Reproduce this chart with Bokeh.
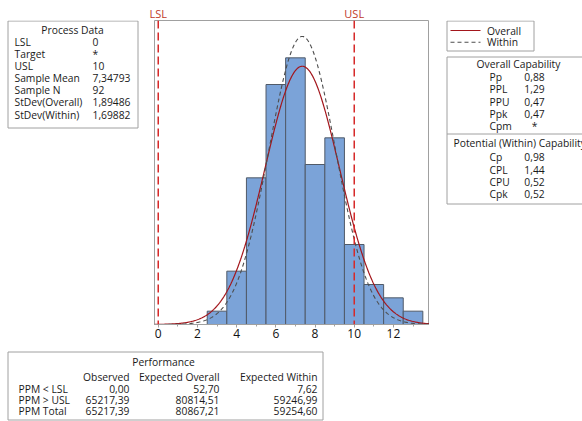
import numpy as np
from bokeh.plotting import figure
from bokeh.layouts import row, column
from bokeh.models import Span, FixedTicker, Range1d
from bokeh.core.properties import value
from bokeh.embed import file_html
from bokeh.resources import INLINE

# ---- data -------------------------------------------------------------
bin_edges = [2.5, 3.5, 4.5, 5.5, 6.5, 7.5, 8.5, 9.5, 10.5, 11.5, 12.5, 13.5]
counts = [1, 4, 11, 18, 20, 12, 14, 6, 3, 2, 1]

lsl, usl = 0, 10
sample_mean = 7.34793
sample_n = 92
stdev_overall = 1.89486
stdev_within = 1.69882

x_ticks = [0, 2, 4, 6, 8, 10, 12]
x_minor_ticks = [1, 3, 5, 7, 9, 11, 13]

legend_labels = ["Overall", "Within"]

process_labels = ["LSL", "Target", "USL", "Sample Mean", "Sample N",
                  "StDev(Overall)", "StDev(Within)"]
process_values = ["0", "*", "10", "7,34793", "92", "1,89486", "1,69882"]

overall_labels = ["Pp", "PPL", "PPU", "Ppk", "Cpm"]
overall_values = ["0,88", "1,29", "0,47", "0,47", "*"]
within_labels = ["Cp", "CPL", "CPU", "Cpk"]
within_values = ["0,98", "1,44", "0,52", "0,52"]

perf_rows = ["PPM < LSL", "PPM > USL", "PPM Total"]
perf_cols = ["Observed", "Expected Overall", "Expected Within"]
perf_observed = ["0,00", "65217,39", "65217,39"]
perf_exp_overall = ["52,70", "80814,51", "80867,21"]
perf_exp_within = ["7,62", "59246,99", "59254,60"]

# ---- styling ----------------------------------------------------------
FONT = "Open Sans"
FS = "10.3px"
TXT = "#1a1a1a"
BORDER = "#a0a0a0"
BAR_FILL = "#7ba3d8"
BAR_LINE = "#505a68"
OVERALL_COLOR = "#a3161c"
WITHIN_COLOR = "#4d4d4d"
SPEC_COLOR = "#d62a2a"
SPEC_TEXT = "#c0392b"

# pixel sizes of the panels
LEFT_W, PLOT_W, RIGHT_W = 154, 275, 153
FULL_W = LEFT_W + PLOT_W + RIGHT_W
TOP_H, MID_H, BOTTOM_H = 20, 325, 76
AXIS_H = 21
MID_FRAME_H = MID_H - AXIS_H  # frames in the middle row share this height

x_range = Range1d(-0.19, 13.84)


def panel(w, h, xr=None, frame_h=None, bottom_border=0):
    """A blank figure whose data units are its own pixels (y runs downward)."""
    fh = frame_h if frame_h is not None else h
    f = figure(width=w, height=h, output_backend="svg", toolbar_location=None,
               x_range=xr if xr is not None else Range1d(0, w),
               y_range=Range1d(fh, 0),
               x_axis_location=None, y_axis_location=None,
               min_border=0, min_border_bottom=bottom_border,
               outline_line_color=None)
    f.grid.visible = False
    return f


def texts(f, xs, ys, labels, align="left", size=FS, color=TXT):
    f.text(x=xs, y=ys, text=labels, text_align=align, text_baseline="middle",
           text_font=value(FONT), text_font_size=value(size), text_color=color)


def frame_box(f, x0, y0, x1, y1):
    f.quad(left=[x0], right=[x1], top=[y0], bottom=[y1],
           fill_alpha=0, line_color=BORDER, line_width=1)


# ---- main histogram ----------------------------------------------------
p = figure(width=PLOT_W, height=MID_H, output_backend="svg", toolbar_location=None,
           x_range=x_range, y_range=Range1d(0, 22.8),
           y_axis_location=None,
           min_border_left=0, min_border_right=0,
           min_border_top=0, min_border_bottom=AXIS_H)
p.grid.visible = False
p.outline_line_color = BORDER

p.quad(left=bin_edges[:-1], right=bin_edges[1:], bottom=0, top=counts,
       fill_color=BAR_FILL, line_color=BAR_LINE, line_width=1)

# fitted normal curves, scaled to counts per bin
bw = bin_edges[1] - bin_edges[0]
xs = np.linspace(x_range.start, x_range.end, 400)


def normal_counts(sd):
    return sample_n * bw * np.exp(-0.5 * ((xs - sample_mean) / sd) ** 2) / (sd * np.sqrt(2 * np.pi))


p.line(xs, normal_counts(stdev_overall), line_color=OVERALL_COLOR, line_width=1.2)
p.line(xs, normal_counts(stdev_within), line_color=WITHIN_COLOR,
       line_width=1.1, line_dash="4 3")

for loc in (lsl, usl):
    p.add_layout(Span(location=loc, dimension="height", line_color=SPEC_COLOR,
                      line_width=1.5, line_dash="8 4"))

ax = p.xaxis[0]
ax.ticker = FixedTicker(ticks=x_ticks, minor_ticks=x_minor_ticks)
ax.axis_line_color = BORDER
ax.major_tick_line_color = BORDER
ax.minor_tick_line_color = BORDER
ax.major_tick_out = 3
ax.major_tick_in = 0
ax.minor_tick_out = 2
ax.minor_tick_in = 0
ax.major_label_standoff = 1
ax.major_label_text_font = FONT
ax.major_label_text_font_size = "12px"
ax.major_label_text_color = "#111111"

# ---- spec limit labels above the frame (same x scale, widened to the page) ----
px_per_unit = PLOT_W / (x_range.end - x_range.start)
top = panel(FULL_W, TOP_H, xr=Range1d(x_range.start - LEFT_W / px_per_unit,
                                      x_range.end + RIGHT_W / px_per_unit))
texts(top, [lsl, usl], [12.5, 12.5], ["LSL", "USL"], align="center",
      size="11px", color=SPEC_TEXT)

# ---- process data table (left) -----------------------------------------
left = panel(LEFT_W, MID_H, frame_h=MID_FRAME_H, bottom_border=AXIS_H)
frame_box(left, 7.5, 0.5, 137.5, 107.5)
texts(left, [72], [9.3], ["Process Data"], align="center")
rows_y = [21.7 + 12.05 * i for i in range(len(process_labels))]
texts(left, [14] * len(rows_y), rows_y, process_labels)
texts(left, [92] * len(rows_y), rows_y, process_values)

# ---- legend and capability tables (right) --------------------------------
right = panel(RIGHT_W, MID_H, frame_h=MID_FRAME_H, bottom_border=AXIS_H)
frame_box(right, 17.5, 0.5, 104.5, 30.5)
leg_y = [10, 21.7]
right.segment(x0=[21], y0=[leg_y[0]], x1=[51], y1=[leg_y[0]],
              line_color=OVERALL_COLOR, line_width=1.2)
right.segment(x0=[21], y0=[leg_y[1]], x1=[51], y1=[leg_y[1]],
              line_color=WITHIN_COLOR, line_width=1.1, line_dash="4 3")
texts(right, [57.5, 57.5], leg_y, legend_labels)

frame_box(right, 17.5, 36.5, 200, 183.5)
right.segment(x0=[17.5], y0=[113.5], x1=[200], y1=[113.5], line_color=BORDER, line_width=1)
texts(right, [89], [43.3], ["Overall Capability"], align="center")
ov_y = [56.7 + 12.25 * i for i in range(len(overall_labels))]
texts(right, [60] * len(ov_y), ov_y, overall_labels)
texts(right, [105] * len(ov_y), ov_y, overall_values, align="center")
texts(right, [24], [122.3], ["Potential (Within) Capability"])
wi_y = [136.7 + 12.4 * i for i in range(len(within_labels))]
texts(right, [60] * len(wi_y), wi_y, within_labels)
texts(right, [105] * len(wi_y), wi_y, within_values, align="center")

# ---- performance table (bottom) ----------------------------------------
bottom = panel(FULL_W, BOTTOM_H)
frame_box(bottom, 7.5, 6.5, 322.5, 74.5)
texts(bottom, [163], [16], ["Performance"], align="center")
col_right = [129, 219, 317]
texts(bottom, col_right, [31.7] * 3, perf_cols, align="right")
perf_y = [43.3 + 11.0 * i for i in range(len(perf_rows))]
texts(bottom, [18] * len(perf_y), perf_y, perf_rows)
for x, col in zip(col_right, [perf_observed, perf_exp_overall, perf_exp_within]):
    texts(bottom, [x] * len(perf_y), perf_y, col, align="right")

layout = column(top, row(left, p, right, spacing=0), bottom, spacing=0)

open("out.html", "w").write(file_html(layout, INLINE))
